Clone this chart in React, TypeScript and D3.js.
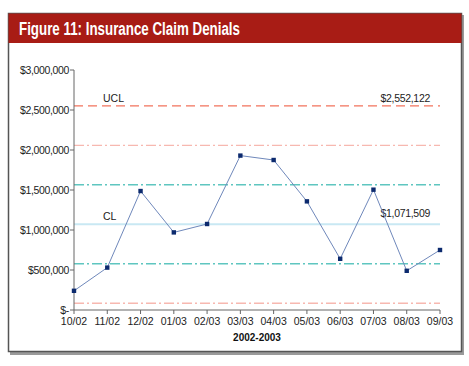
import React from "react";
import * as d3 from "d3";

const WIDTH = 469;
const HEIGHT = 366;

// values
const months = ["10/02", "11/02", "12/02", "01/03", "02/03", "03/03", "04/03", "05/03", "06/03", "07/03", "08/03", "09/03"];
const denials = [240000, 530000, 1487000, 970000, 1075000, 1930000, 1875000, 1358000, 640000, 1504000, 490000, 750000];
const yTicks = [0, 500000, 1000000, 1500000, 2000000, 2500000, 3000000];

const UCL = 2552122;
const CL = 1071509;
const SIGMA = (UCL - CL) / 3;

const fmtMoney = (v: number) => (v === 0 ? "$-" : "$" + d3.format(",")(v));

const LEFT = 74;
const RIGHT = 440;
const TOP = 70;
const BOTTOM = 310;

const FONT = "'Liberation Sans', Arial, sans-serif";

export default function App() {
    const x = d3.scalePoint<string>().domain(months).range([LEFT, RIGHT]);
    const y = d3.scaleLinear().domain([0, 3000000]).range([BOTTOM, TOP]);

    const line = d3.line<number>()
        .x((_, i) => x(months[i]) as number)
        .y((d) => y(d));

    // control limit / sigma bands
    const refLines = [
        {v: UCL, color: "#f2735c", dash: "9,5", w: 1.3},
        {v: CL + 2 * SIGMA, color: "#f7b8b0", dash: "10,3,2,3", w: 1.2},
        {v: CL + SIGMA, color: "#5fc6c0", dash: "10,3,2,3", w: 1.5},
        {v: CL, color: "#c9e8f3", dash: "", w: 2},
        {v: CL - SIGMA, color: "#5fc6c0", dash: "10,3,2,3", w: 1.3},
        {v: CL - 2 * SIGMA, color: "#f7b8b0", dash: "10,3,2,3", w: 1.3},
    ];

    return (
        <svg width={WIDTH} height={HEIGHT} style={{position: "absolute", left: 0, top: 0}} fontFamily={FONT}>
            <rect x={0} y={0} width={WIDTH} height={HEIGHT} fill="#fff"/>
            {/* frame with shadow */}
            <rect x={10} y={15} width={454} height={340} fill="#9a9a9a"/>
            <rect x={8.5} y={13.5} width={453} height={338} fill="#fff" stroke="#555" strokeWidth={1.5}/>
            <rect x={8.5} y={13.5} width={453} height={29.5} fill="#a81c15"/>
            <text x={19} y={35} fill="#fff" fontSize={17.5} fontWeight="bold"
                  textLength={221} lengthAdjust="spacingAndGlyphs">Figure 11: Insurance Claim Denials</text>

            {refLines.map((r, i) => (
                <line key={i} x1={LEFT} x2={RIGHT} y1={y(r.v)} y2={y(r.v)}
                      stroke={r.color} strokeWidth={r.w} strokeDasharray={r.dash || undefined}/>
            ))}
            <text x={103} y={y(UCL) - 4} fontSize={10.5} fill="#222">UCL</text>
            <text x={430} y={y(UCL) - 4} fontSize={10.5} fill="#222" textAnchor="end" letterSpacing={-0.3}>{fmtMoney(UCL)}</text>
            <text x={103} y={y(CL) - 4} fontSize={10.5} fill="#222">CL</text>
            <text x={430} y={y(CL) - 7} fontSize={10.5} fill="#222" textAnchor="end" letterSpacing={-0.3}>{fmtMoney(CL)}</text>

            {/* y axis */}
            <line x1={LEFT} x2={LEFT} y1={TOP} y2={BOTTOM} stroke="#666" strokeWidth={1}/>
            {yTicks.map((t) => (
                <g key={t} transform={`translate(0,${y(t)})`}>
                    <line x1={LEFT - 4} x2={LEFT} stroke="#666"/>
                    <text x={LEFT - 5} dy="0.35em" textAnchor="end" fontSize={10.5} fill="#222"
                          letterSpacing={-0.35}>{fmtMoney(t)}</text>
                </g>
            ))}

            {/* x axis */}
            <line x1={LEFT} x2={RIGHT} y1={BOTTOM} y2={BOTTOM} stroke="#666"/>
            {months.map((m) => (
                <g key={m} transform={`translate(${x(m)},${BOTTOM})`}>
                    <line y1={0} y2={4} stroke="#666"/>
                    <text y={15} textAnchor="middle" fontSize={10.5} fill="#222">{m}</text>
                </g>
            ))}
            <text x={257} y={341} textAnchor="middle" fontSize={10} fontWeight="bold" fill="#111">2002-2003</text>

            <path d={line(denials) || ""} fill="none" stroke="#6f88bb" strokeWidth={1}/>
            {denials.map((d, i) => (
                <rect key={i} x={(x(months[i]) as number) - 2.2} y={y(d) - 2.2} width={4.4} height={4.4} fill="#0c2a6e"/>
            ))}
        </svg>
    );
}
